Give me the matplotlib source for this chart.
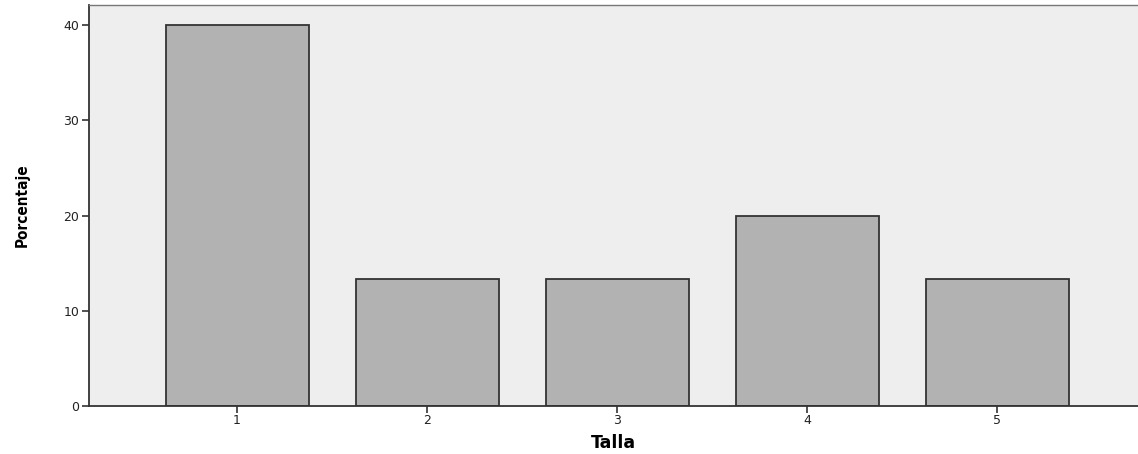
import matplotlib
matplotlib.use("Agg")
import matplotlib.pyplot as plt

categories = ["1", "2", "3", "4", "5"]
percentages = [40.0, 13.33, 13.33, 20.0, 13.33]
yticks = [0, 10, 20, 30, 40]

fig = plt.figure(figsize=(11.38, 4.54), dpi=100)
ax = fig.add_axes([89/1138, 1-406/454, 1-89/1138, 401/454])
ax.set_facecolor("#eeeeee")

x = list(range(1, len(categories) + 1))
ax.bar(x, percentages, width=0.753, color="#b2b2b2", edgecolor="#333333", linewidth=1.3, zorder=2)

ax.set_xlim(0.221, 5.74)
ax.set_ylim(0, 42.1)
ax.set_xticks(x)
ax.set_xticklabels(categories)
ax.set_yticks(yticks)
ax.tick_params(axis="both", labelsize=9, length=5, width=1.2, color="#333333", labelcolor="#222222")
ax.tick_params(axis="y", pad=2)
ax.tick_params(axis="x", pad=1)

for s in ["left", "bottom"]:
    ax.spines[s].set_color("#333333")
    ax.spines[s].set_linewidth(1.3)
ax.spines["top"].set_color("#777777")
ax.spines["top"].set_linewidth(1.0)
ax.spines["right"].set_visible(False)

ax.set_xlabel("Talla", fontsize=12.5, fontweight="bold", family="DejaVu Sans", labelpad=5)
ax.set_ylabel("Porcentaje", fontsize=11, fontweight="bold", fontstretch="condensed",
              family="DejaVu Sans", labelpad=24)

fig.savefig("out.png", dpi=100)
